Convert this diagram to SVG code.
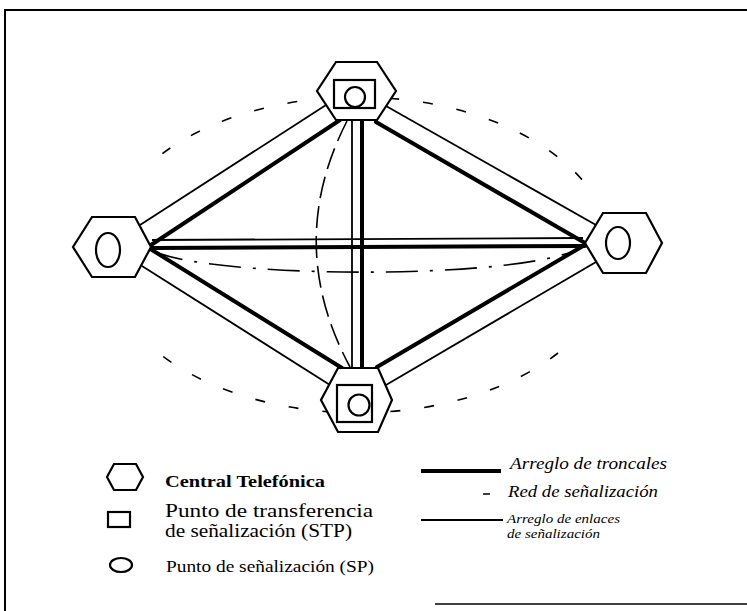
<svg xmlns="http://www.w3.org/2000/svg" width="747" height="611" viewBox="0 0 747 611">
<style>
.hex{fill:#fff;stroke:#000;stroke-width:2.2}
.sym{fill:none;stroke:#000;stroke-width:2.2}
.thick{stroke:#000;stroke-width:4;fill:none;stroke-linecap:round}
.thin{stroke:#000;stroke-width:1.8;fill:none}
.sig{stroke:#000;stroke-width:1.6;fill:none}
.lbl{font-family:"Liberation Serif",serif;fill:#000}
.it{font-family:"Liberation Serif",serif;font-style:italic;fill:#000}
</style>
<rect width="747" height="611" fill="#fff"/>
<g id="frame">
<line x1="4" y1="10" x2="747" y2="10" stroke="#000" stroke-width="2"/>
<line x1="5" y1="9" x2="5" y2="611" stroke="#000" stroke-width="2"/>
<line x1="435" y1="604" x2="747" y2="604" stroke="#000" stroke-width="1.5"/>
</g>
<g id="connectors">
<path class="sig" d="M162.4,153.6 A255,158 0 0 1 592,192.4" stroke-dasharray="10 24"/>
<path class="sig" d="M558,353 A255,158 0 0 1 150,346" stroke-dasharray="10 24"/>
<path class="sig" d="M347,121 Q284,244 350,367" stroke-dasharray="22 8"/>
<path class="sig" d="M152,250 C200,278 520,282 583,247" stroke-dasharray="32 12 3 12"/>
<line class="thin" x1="326" y1="105" x2="140" y2="225"/>
<line class="thick" x1="340" y1="120" x2="151" y2="245"/>
<line class="thin" x1="386" y1="106" x2="596" y2="225"/>
<line class="thick" x1="376" y1="122" x2="585" y2="243"/>
<line class="thin" x1="142" y1="266" x2="330" y2="385"/>
<line class="thick" x1="152" y1="250" x2="342" y2="368"/>
<line class="thin" x1="596" y1="262" x2="386" y2="385"/>
<line class="thick" x1="583" y1="246" x2="377" y2="367"/>
<line class="thin" x1="152" y1="240" x2="583" y2="238"/>
<line class="thick" x1="152" y1="248" x2="585" y2="246"/>
<line class="thin" x1="352" y1="120" x2="352" y2="368"/>
<line class="thick" x1="362" y1="120" x2="362" y2="368"/>
</g>
<g id="node-top">
<polygon class="hex" points="336,62 377,62 396,91 377,120 336,120 317,91"/>
<rect class="sym" x="334" y="80" width="41" height="28"/>
<circle class="sym" cx="355" cy="97" r="10"/>
</g>
<g id="node-left">
<polygon class="hex" points="92,217 135,217 151,247 135,277 92,277 73,247"/>
<ellipse class="sym" cx="108" cy="250" rx="12" ry="17"/>
</g>
<g id="node-right">
<polygon class="hex" points="603,213 646,213 662,243 646,273 603,273 585,243"/>
<ellipse class="sym" cx="618" cy="243" rx="12" ry="16"/>
</g>
<g id="node-bottom">
<polygon class="hex" points="338,368 378,368 392,400 378,432 338,432 321,400"/>
<rect class="sym" x="337" y="385" width="35" height="37"/>
<circle class="sym" cx="359" cy="405" r="10.5"/>
</g>
<g id="legend">
<polygon class="sym" points="114,464 136,464 143,477 136,490 114,490 107,477"/>
<rect class="sym" x="108" y="512" width="22" height="15"/>
<ellipse class="sym" cx="121" cy="565" rx="11" ry="7"/>
<text class="lbl" x="165" y="487" font-size="17" font-weight="bold" textLength="160" lengthAdjust="spacingAndGlyphs">Central Telefónica</text>
<text class="lbl" x="165" y="517" font-size="18" textLength="208" lengthAdjust="spacingAndGlyphs">Punto de transferencia</text>
<text class="lbl" x="165" y="537" font-size="18" textLength="187" lengthAdjust="spacingAndGlyphs">de señalización (STP)</text>
<text class="lbl" x="166" y="572" font-size="16" textLength="208" lengthAdjust="spacingAndGlyphs">Punto de señalización (SP)</text>
<line x1="421" y1="471" x2="501" y2="471" stroke="#000" stroke-width="4"/>
<line x1="483" y1="494" x2="490" y2="494" stroke="#000" stroke-width="1.5"/>
<line x1="421" y1="520" x2="503" y2="520" stroke="#000" stroke-width="1.8"/>
<text class="it" x="510" y="469" font-size="16" textLength="157" lengthAdjust="spacingAndGlyphs">Arreglo de troncales</text>
<text class="it" x="508" y="497" font-size="16" textLength="150" lengthAdjust="spacingAndGlyphs">Red de señalización</text>
<text class="it" x="507" y="523" font-size="13" textLength="113" lengthAdjust="spacingAndGlyphs">Arreglo de enlaces</text>
<text class="it" x="507" y="538" font-size="13" textLength="93" lengthAdjust="spacingAndGlyphs">de señalización</text>
</g>
</svg>
